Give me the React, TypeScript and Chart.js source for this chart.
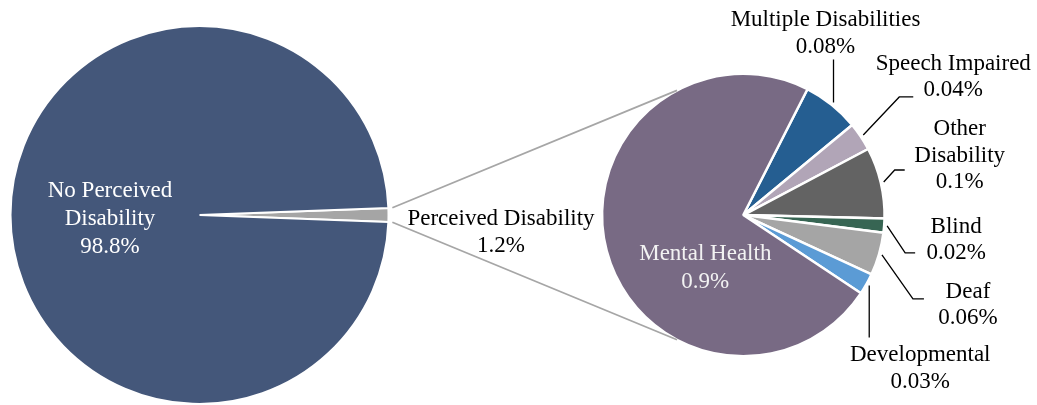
import React, { useEffect, useRef } from "react";
import { Chart, registerables } from "chart.js";

Chart.register(...registerables);

// ---------- data ----------
const mainCategories = ["Perceived Disability", "No Perceived Disability"];
const mainValues = [1.2, 98.8];
const mainValueLabels = ["1.2%", "98.8%"];
const mainColors = ["#A5A5A5", "#44577A"];

const detailCategories = [
  "Multiple Disabilities",
  "Speech Impaired",
  "Other Disability",
  "Blind",
  "Deaf",
  "Developmental",
  "Mental Health",
];
const detailValues = [0.08, 0.04, 0.1, 0.02, 0.06, 0.03, 0.9];
const detailValueLabels = ["0.08%", "0.04%", "0.1%", "0.02%", "0.06%", "0.03%", "0.9%"];
const detailColors = ["#255E91", "#B1A5B7", "#636363", "#376553", "#A5A5A5", "#5B9BD5", "#786A84"];

// ---------- layout / style ----------
const W = 1037;
const H = 405;
const FONT = '23px "Liberation Serif", "Times New Roman", serif';
const LINE_H = 26.5;
const DETAIL_START_DEG = -63; // where the small slices begin (screen degrees)
const CONNECTOR_SPREAD_DEG = 62;

type LabelLayout = {
  dx: number;
  dy: number;
  path?: number[][];
  split?: boolean;
  color?: string;
  inside?: boolean;
  lineH?: number;
};

const detailLayout: LabelLayout[] = [
  { dx: -8, dy: -76, path: [[0, 0], [0, -43]] },
  { dx: 90, dy: -65, path: [[0, 0], [36, -38], [50, -38]] },
  { dx: 76, dy: -47, path: [[0, 0], [11, -12], [21, -12]], split: true },
  { dx: 69, dy: 7, path: [[0, 0], [18, 27], [28, 27]] },
  { dx: 86, dy: 43, path: [[0, 0], [31, 44], [42, 44]] },
  { dx: 51, dy: 76, path: [[0, 0], [0, 52]] },
  { dx: -38, dy: 45, inside: true, color: "#F2F2F2", lineH: 28 },
];

function splitLast(s: string): string[] {
  const i = s.lastIndexOf(" ");
  return i < 0 ? [s] : [s.slice(0, i), s.slice(i + 1)];
}

function drawLines(ctx: CanvasRenderingContext2D, lines: string[], x: number, y: number, color: string, lh: number) {
  ctx.save();
  ctx.font = FONT;
  ctx.fillStyle = color;
  ctx.textAlign = "center";
  ctx.textBaseline = "alphabetic";
  lines.forEach((t, i) => ctx.fillText(t, x, y + i * lh));
  ctx.restore();
}

export default function App() {
  const leftRef = useRef<HTMLCanvasElement>(null);
  const rightRef = useRef<HTMLCanvasElement>(null);

  useEffect(() => {
    if (!leftRef.current || !rightRef.current) return;

    const mainTotal = mainValues.reduce((a, b) => a + b, 0);
    const mainRotation = 90 - ((mainValues[0] / mainTotal) * 360) / 2;

    const leftLabelPlugin = {
      id: "leftLabels",
      afterDatasetsDraw(chart: any) {
        const ctx = chart.ctx as CanvasRenderingContext2D;
        const arc = chart.getDatasetMeta(0).data[1];
        drawLines(
          ctx,
          [...splitLast(mainCategories[1]), mainValueLabels[1]],
          arc.x - 89.5,
          arc.y - 18,
          "#FFFFFF",
          28
        );
      },
    };

    const left = new Chart(leftRef.current, {
      type: "pie",
      data: {
        labels: mainCategories,
        datasets: [
          {
            data: mainValues,
            backgroundColor: mainColors,
            borderColor: "#FFFFFF",
            borderWidth: 2,
            hoverBorderWidth: 2,
          },
        ],
      },
      options: {
        responsive: false,
        animation: false,
        rotation: mainRotation,
        layout: { padding: { left: 9.5, right: 10.5, top: 25, bottom: 0 } },
        plugins: { legend: { display: false }, tooltip: { enabled: false } },
      },
      plugins: [leftLabelPlugin],
    });

    const rightLabelPlugin = {
      id: "rightLabels",
      afterDatasetsDraw(chart: any) {
        const ctx = chart.ctx as CanvasRenderingContext2D;
        const arcs = chart.getDatasetMeta(0).data;
        const cx = arcs[0].x;
        const cy = arcs[0].y;
        const r = arcs[0].outerRadius;

        // connectors from the left pie's small slice to the detail pie
        const lArc: any = left.getDatasetMeta(0).data[0];
        const lr = lArc.outerRadius + 4;
        const p1 = [lArc.x + lr * Math.cos(lArc.startAngle), lArc.y + lr * Math.sin(lArc.startAngle)];
        const p2 = [lArc.x + lr * Math.cos(lArc.endAngle), lArc.y + lr * Math.sin(lArc.endAngle)];
        const a1 = ((180 + CONNECTOR_SPREAD_DEG) * Math.PI) / 180;
        const a2 = ((180 - CONNECTOR_SPREAD_DEG) * Math.PI) / 180;
        const q1 = [cx + r * Math.cos(a1), cy + r * Math.sin(a1)];
        const q2 = [cx + r * Math.cos(a2), cy + r * Math.sin(a2)];
        ctx.save();
        ctx.strokeStyle = "#A6A6A6";
        ctx.lineWidth = 1.8;
        ctx.beginPath();
        ctx.moveTo(p1[0], p1[1]);
        ctx.lineTo(q1[0], q1[1]);
        ctx.moveTo(p2[0], p2[1]);
        ctx.lineTo(q2[0], q2[1]);
        ctx.stroke();
        ctx.restore();

        // label of the small slice of the left pie
        const lmid = (lArc.startAngle + lArc.endAngle) / 2;
        const ex = lArc.x + lArc.outerRadius * Math.cos(lmid);
        const ey = lArc.y + lArc.outerRadius * Math.sin(lmid);
        drawLines(ctx, [mainCategories[0], mainValueLabels[0]], ex + 112.5, ey + 10, "#000000", 27);

        // detail labels
        arcs.forEach((arc: any, i: number) => {
          const lay = detailLayout[i];
          const text = [...(lay.split ? splitLast(detailCategories[i]) : [detailCategories[i]]), detailValueLabels[i]];
          if (lay.inside) {
            drawLines(ctx, text, cx + lay.dx, cy + lay.dy, lay.color || "#000", lay.lineH || LINE_H);
            return;
          }
          const mid = (arc.startAngle + arc.endAngle) / 2;
          const ax = cx + (r + 3) * Math.cos(mid);
          const ay = cy + (r + 3) * Math.sin(mid);
          if (lay.path) {
            ctx.save();
            ctx.strokeStyle = "#000000";
            ctx.lineWidth = 1.3;
            ctx.beginPath();
            lay.path.forEach((p, k) => {
              if (k === 0) ctx.moveTo(ax + p[0], ay + p[1]);
              else ctx.lineTo(ax + p[0], ay + p[1]);
            });
            ctx.stroke();
            ctx.restore();
          }
          drawLines(ctx, text, ax + lay.dx, ay + lay.dy, lay.color || "#000000", lay.lineH || LINE_H);
        });
      },
    };

    const right = new Chart(rightRef.current, {
      type: "pie",
      data: {
        labels: detailCategories,
        datasets: [
          {
            data: detailValues,
            backgroundColor: detailColors,
            borderColor: "#FFFFFF",
            borderWidth: 2.5,
            hoverBorderWidth: 2.5,
          },
        ],
      },
      options: {
        responsive: false,
        animation: false,
        rotation: DETAIL_START_DEG + 90,
        layout: { padding: { left: 600.8, right: 151.2, top: 72.3, bottom: 47.2 } },
        plugins: { legend: { display: false }, tooltip: { enabled: false } },
      },
      plugins: [rightLabelPlugin],
    });

    return () => {
      right.destroy();
      left.destroy();
    };
  }, []);

  return (
    <div style={{ position: "absolute", left: 0, top: 0, width: W, height: H, background: "#FFFFFF" }}>
      <canvas
        ref={leftRef}
        width={400}
        height={H}
        style={{ position: "absolute", left: 0, top: 0, width: 400, height: H }}
      />
      <canvas
        ref={rightRef}
        width={W}
        height={H}
        style={{ position: "absolute", left: 0, top: 0, width: W, height: H }}
      />
    </div>
  );
}
